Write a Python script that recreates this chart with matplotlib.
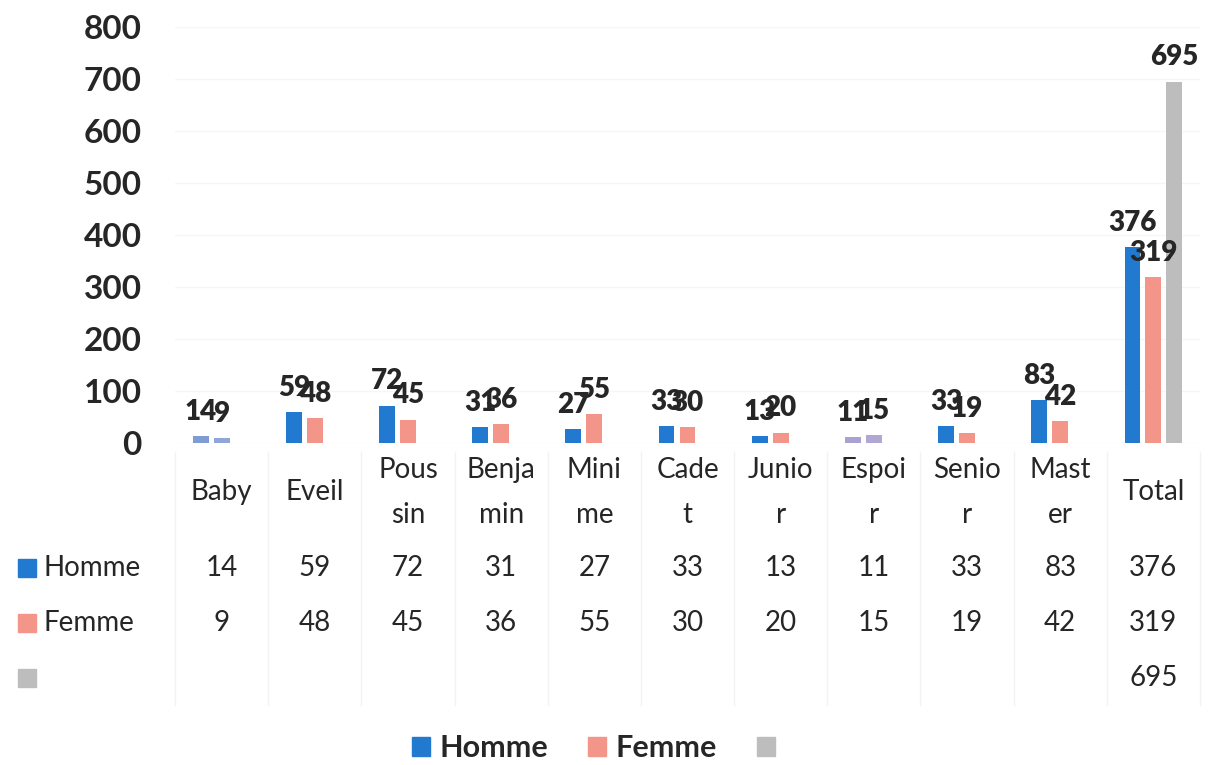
import numpy as np
import matplotlib.pyplot as plt
from matplotlib.transforms import blended_transform_factory
from matplotlib.patches import Patch

# categories and values
categories = ['Baby', 'Eveil', 'Pousin', 'Benjamin', 'Minime', 'Cadet',
              'Junior', 'Espoir', 'Senior', 'Master', 'Total']
header_labels = ['Baby', 'Eveil', 'Pous\nsin', 'Benja\nmin', 'Mini\nme', 'Cade\nt',
                 'Junio\nr', 'Espoi\nr', 'Senio\nr', 'Mast\ner', 'Total']
homme = [14, 59, 72, 31, 27, 33, 13, 11, 33, 83, 376]
femme = [9, 48, 45, 36, 55, 30, 20, 15, 19, 42, 319]
total = [None] * 10 + [695]
yticks = [0, 100, 200, 300, 400, 500, 600, 700, 800]

BLUE = '#2179d0'
PINK = '#f4958a'
GREY = '#bdbdbd'
TXT = '#262626'

plt.rcParams['font.family'] = ['Lato', 'DejaVu Sans']

W, H = 1217, 765
fig = plt.figure(figsize=(W / 100, H / 100), dpi=100)
ax = fig.add_axes([175 / W, 1 - 443 / H, 1025 / W, 416 / H])

x = np.arange(len(categories))
bw = 0.17
off = 0.225

# scan tints on a couple of groups
hcol = [BLUE] * len(x)
fcol = [PINK] * len(x)
hcol[0] = '#7f9dd4'; fcol[0] = '#8fa6d6'
hcol[7] = '#a8a2d0'; fcol[7] = '#b0a8d2'

hb = ax.bar(x - off, homme, bw, color=hcol)
fb = ax.bar(x, femme, bw, color=fcol)
tv = [np.nan if v is None else v for v in total]
tb = ax.bar(x + off, tv, bw, color=GREY)

for bars, vals in [(hb, homme), (fb, femme), (tb, total)]:
    for b, v in zip(bars, vals):
        if v is None:
            continue
        ax.annotate(str(v), (b.get_x() + b.get_width() / 2, v),
                    xytext=(0, 8), textcoords='offset points',
                    ha='center', va='bottom', fontsize=20,
                    fontweight='heavy', color=TXT)

ax.set_xlim(-0.5, len(x) - 0.5)
ax.set_ylim(0, 800)
ax.set_yticks(yticks)
ax.set_yticklabels([str(t) for t in yticks], fontsize=24, fontweight='bold', color=TXT)
ax.tick_params(axis='y', length=0, pad=24)
ax.set_xticks([])
for s in ax.spines.values():
    s.set_visible(False)
ax.yaxis.grid(True, color='#f6f6f6', linewidth=1)
ax.set_axisbelow(True)

# data table under the plot
tr = blended_transform_factory(ax.transData, fig.transFigure)
fy = lambda py: 1 - py / H

for i, lab in enumerate(header_labels):
    parts = lab.split('\n')
    if len(parts) == 1:
        ax.text(i, fy(492), lab, transform=tr, ha='center', va='center',
                fontsize=20, color=TXT)
    else:
        ax.text(i, fy(470), parts[0], transform=tr, ha='center', va='center',
                fontsize=20, color=TXT)
        ax.text(i, fy(515), parts[1], transform=tr, ha='center', va='center',
                fontsize=20, color=TXT)

rows = [('Homme', homme, BLUE, 568), ('Femme', femme, PINK, 623), ('', total, GREY, 678)]
for name, vals, col, py in rows:
    fig.patches.append(plt.Rectangle((18 / W, fy(py + 9)), 18 / W, 18 / H,
                                     transform=fig.transFigure, color=col))
    fig.text(44 / W, fy(py), name, ha='left', va='center', fontsize=20, color=TXT)
    for i, v in enumerate(vals):
        if v is None:
            continue
        ax.text(i, fy(py), str(v), transform=tr, ha='center', va='center',
                fontsize=20, color=TXT)

for i in range(len(x) + 1):
    ax.plot([i - 0.5, i - 0.5], [fy(452), fy(705)], transform=tr,
            color='#f3f3f3', linewidth=1, clip_on=False)

handles = [Patch(color=BLUE), Patch(color=PINK), Patch(color=GREY)]
leg = fig.legend(handles, ['Homme', 'Femme', ''], loc='center',
                 bbox_to_anchor=(598 / W, fy(748)), ncol=3, frameon=False,
                 prop={'size': 22, 'weight': 'bold'}, handlelength=0.6,
                 handleheight=0.6, handletextpad=0.3, columnspacing=1.3)
for t in leg.get_texts():
    t.set_color(TXT)

fig.savefig('out.png', dpi=100)
